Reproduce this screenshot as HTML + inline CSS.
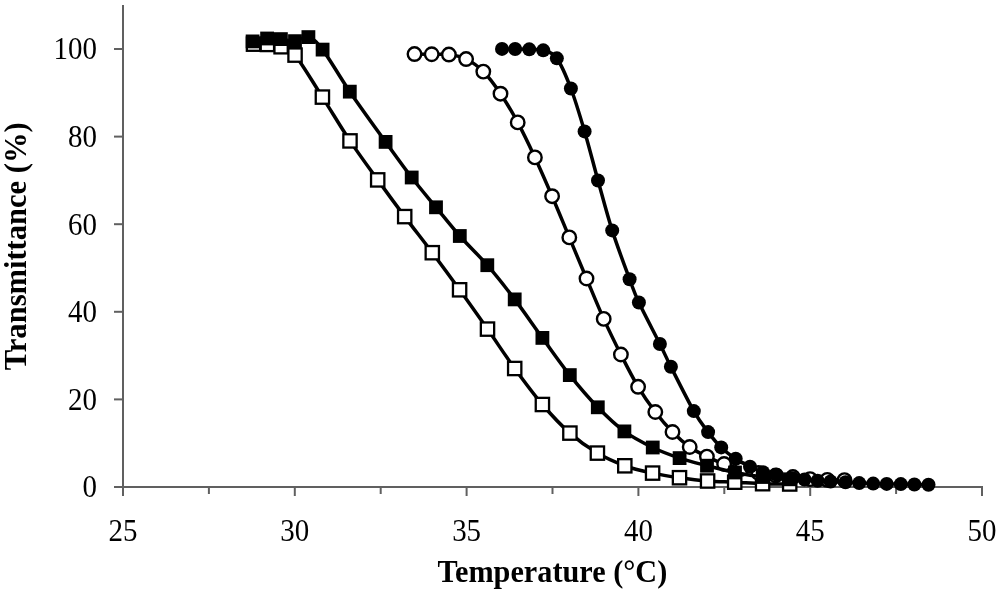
<!DOCTYPE html>
<html><head><meta charset="utf-8"><style>html,body{margin:0;padding:0;background:#fff;width:1000px;height:593px;overflow:hidden}svg{display:block;filter:grayscale(1)}</style></head>
<body><svg width="1000" height="593" viewBox="0 0 1000 593"><g stroke="#606060" stroke-width="2" fill="none">
<line x1="123" y1="5" x2="123" y2="488"/>
<line x1="122" y1="487" x2="983" y2="487"/>
<line x1="114.00" y1="487.00" x2="123.00" y2="487.00"/>
<line x1="114.00" y1="399.40" x2="123.00" y2="399.40"/>
<line x1="114.00" y1="311.80" x2="123.00" y2="311.80"/>
<line x1="114.00" y1="224.20" x2="123.00" y2="224.20"/>
<line x1="114.00" y1="136.60" x2="123.00" y2="136.60"/>
<line x1="114.00" y1="49.00" x2="123.00" y2="49.00"/>
<line x1="123.00" y1="487.00" x2="123.00" y2="496.00"/>
<line x1="208.90" y1="487.00" x2="208.90" y2="494.00"/>
<line x1="294.80" y1="487.00" x2="294.80" y2="496.00"/>
<line x1="380.70" y1="487.00" x2="380.70" y2="494.00"/>
<line x1="466.60" y1="487.00" x2="466.60" y2="496.00"/>
<line x1="552.50" y1="487.00" x2="552.50" y2="494.00"/>
<line x1="638.40" y1="487.00" x2="638.40" y2="496.00"/>
<line x1="724.30" y1="487.00" x2="724.30" y2="494.00"/>
<line x1="810.20" y1="487.00" x2="810.20" y2="496.00"/>
<line x1="896.10" y1="487.00" x2="896.10" y2="494.00"/>
<line x1="982.00" y1="487.00" x2="982.00" y2="496.00"/>
</g>
<g font-family="&quot;Liberation Serif&quot;, serif" font-size="31.8" fill="#000">
<text transform="translate(97,497.30) scale(0.91,1)" text-anchor="end">0</text>
<text transform="translate(97,409.70) scale(0.91,1)" text-anchor="end">20</text>
<text transform="translate(97,322.10) scale(0.91,1)" text-anchor="end">40</text>
<text transform="translate(97,234.50) scale(0.91,1)" text-anchor="end">60</text>
<text transform="translate(97,146.90) scale(0.91,1)" text-anchor="end">80</text>
<text transform="translate(97,59.30) scale(0.91,1)" text-anchor="end">100</text>
<text transform="translate(123.00,540.5) scale(0.91,1)" text-anchor="middle">25</text>
<text transform="translate(294.80,540.5) scale(0.91,1)" text-anchor="middle">30</text>
<text transform="translate(466.60,540.5) scale(0.91,1)" text-anchor="middle">35</text>
<text transform="translate(638.40,540.5) scale(0.91,1)" text-anchor="middle">40</text>
<text transform="translate(810.20,540.5) scale(0.91,1)" text-anchor="middle">45</text>
<text transform="translate(982.00,540.5) scale(0.91,1)" text-anchor="middle">50</text>
</g>
<text transform="translate(552.4,582) scale(0.92828,1)" text-anchor="middle" font-family="&quot;Liberation Serif&quot;, serif" font-weight="bold" font-size="32.6">Temperature (°C)</text>
<text transform="translate(26,246.3) rotate(-90) scale(0.93748,1)" text-anchor="middle" font-family="&quot;Liberation Serif&quot;, serif" font-weight="bold" font-size="32.6">Transmittance (%)</text>
<path d="M253.50,44.15 C255.82,44.20 262.80,44.02 267.40,44.45 C272.00,44.88 276.49,44.98 281.10,46.75 C285.71,48.52 288.17,46.71 295.05,55.10 C301.93,63.49 313.24,82.80 322.40,97.10 C331.56,111.40 340.78,127.10 350.00,140.90 C359.22,154.70 368.58,167.28 377.70,179.90 C386.82,192.52 395.60,204.47 404.70,216.60 C413.80,228.73 423.15,240.50 432.30,252.70 C441.45,264.90 450.40,277.07 459.60,289.80 C468.80,302.53 478.32,315.98 487.50,329.10 C496.68,342.22 505.55,355.93 514.70,368.50 C523.85,381.07 533.20,393.73 542.40,404.50 C551.60,415.27 560.73,425.00 569.90,433.10 C579.07,441.20 588.25,447.65 597.40,453.10 C606.55,458.55 615.60,462.47 624.80,465.80 C634.00,469.13 643.48,471.12 652.60,473.10 C661.72,475.08 670.33,476.38 679.50,477.70 C688.67,479.02 698.40,480.25 707.60,481.00 C716.80,481.75 725.53,481.75 734.70,482.20 C743.87,482.65 753.43,483.40 762.60,483.70 C771.77,484.00 785.18,483.95 789.70,484.00" fill="none" stroke="#000" stroke-width="3.5" stroke-linejoin="round"/>
<rect x="246.85" y="37.50" width="13.30" height="13.30" fill="#fff" stroke="#000" stroke-width="2.3"/>
<rect x="260.75" y="37.80" width="13.30" height="13.30" fill="#fff" stroke="#000" stroke-width="2.3"/>
<rect x="274.45" y="40.10" width="13.30" height="13.30" fill="#fff" stroke="#000" stroke-width="2.3"/>
<rect x="288.40" y="48.45" width="13.30" height="13.30" fill="#fff" stroke="#000" stroke-width="2.3"/>
<rect x="315.75" y="90.45" width="13.30" height="13.30" fill="#fff" stroke="#000" stroke-width="2.3"/>
<rect x="343.35" y="134.25" width="13.30" height="13.30" fill="#fff" stroke="#000" stroke-width="2.3"/>
<rect x="371.05" y="173.25" width="13.30" height="13.30" fill="#fff" stroke="#000" stroke-width="2.3"/>
<rect x="398.05" y="209.95" width="13.30" height="13.30" fill="#fff" stroke="#000" stroke-width="2.3"/>
<rect x="425.65" y="246.05" width="13.30" height="13.30" fill="#fff" stroke="#000" stroke-width="2.3"/>
<rect x="452.95" y="283.15" width="13.30" height="13.30" fill="#fff" stroke="#000" stroke-width="2.3"/>
<rect x="480.85" y="322.45" width="13.30" height="13.30" fill="#fff" stroke="#000" stroke-width="2.3"/>
<rect x="508.05" y="361.85" width="13.30" height="13.30" fill="#fff" stroke="#000" stroke-width="2.3"/>
<rect x="535.75" y="397.85" width="13.30" height="13.30" fill="#fff" stroke="#000" stroke-width="2.3"/>
<rect x="563.25" y="426.45" width="13.30" height="13.30" fill="#fff" stroke="#000" stroke-width="2.3"/>
<rect x="590.75" y="446.45" width="13.30" height="13.30" fill="#fff" stroke="#000" stroke-width="2.3"/>
<rect x="618.15" y="459.15" width="13.30" height="13.30" fill="#fff" stroke="#000" stroke-width="2.3"/>
<rect x="645.95" y="466.45" width="13.30" height="13.30" fill="#fff" stroke="#000" stroke-width="2.3"/>
<rect x="672.85" y="471.05" width="13.30" height="13.30" fill="#fff" stroke="#000" stroke-width="2.3"/>
<rect x="700.95" y="474.35" width="13.30" height="13.30" fill="#fff" stroke="#000" stroke-width="2.3"/>
<rect x="728.05" y="475.55" width="13.30" height="13.30" fill="#fff" stroke="#000" stroke-width="2.3"/>
<rect x="755.95" y="477.05" width="13.30" height="13.30" fill="#fff" stroke="#000" stroke-width="2.3"/>
<rect x="783.05" y="477.35" width="13.30" height="13.30" fill="#fff" stroke="#000" stroke-width="2.3"/>
<path d="M414.50,54.05 C417.37,54.08 425.97,54.17 431.70,54.25 C437.43,54.33 443.17,53.75 448.90,54.55 C454.63,55.35 460.37,56.21 466.10,59.05 C471.83,61.89 477.57,65.82 483.30,71.60 C489.03,77.38 494.77,85.23 500.50,93.70 C506.23,102.17 511.97,111.78 517.70,122.40 C523.43,133.02 529.17,145.10 534.90,157.40 C540.63,169.70 546.37,182.87 552.10,196.20 C557.83,209.53 563.57,223.68 569.30,237.40 C575.03,251.12 580.77,264.92 586.50,278.50 C592.23,292.08 597.97,306.23 603.70,318.90 C609.43,331.57 615.17,343.18 620.90,354.50 C626.63,365.82 632.37,377.22 638.10,386.80 C643.83,396.38 649.57,404.47 655.30,412.00 C661.03,419.53 666.77,426.17 672.50,432.00 C678.23,437.83 683.97,442.90 689.70,447.00 C695.43,451.10 701.17,453.77 706.90,456.60 C712.63,459.43 718.37,461.93 724.10,464.00 C729.83,466.07 735.57,467.50 741.30,469.00 C747.03,470.50 752.77,471.92 758.50,473.00 C764.23,474.08 769.97,474.83 775.70,475.50 C781.43,476.17 787.17,476.40 792.90,477.00 C798.63,477.60 804.37,478.62 810.10,479.10 C815.83,479.58 821.57,479.73 827.30,479.90 C833.03,480.07 841.63,480.07 844.50,480.10" fill="none" stroke="#000" stroke-width="3.5" stroke-linejoin="round"/>
<circle cx="414.50" cy="54.05" r="6.75" fill="#fff" stroke="#000" stroke-width="2.4"/>
<circle cx="431.70" cy="54.25" r="6.75" fill="#fff" stroke="#000" stroke-width="2.4"/>
<circle cx="448.90" cy="54.55" r="6.75" fill="#fff" stroke="#000" stroke-width="2.4"/>
<circle cx="466.10" cy="59.05" r="6.75" fill="#fff" stroke="#000" stroke-width="2.4"/>
<circle cx="483.30" cy="71.60" r="6.75" fill="#fff" stroke="#000" stroke-width="2.4"/>
<circle cx="500.50" cy="93.70" r="6.75" fill="#fff" stroke="#000" stroke-width="2.4"/>
<circle cx="517.70" cy="122.40" r="6.75" fill="#fff" stroke="#000" stroke-width="2.4"/>
<circle cx="534.90" cy="157.40" r="6.75" fill="#fff" stroke="#000" stroke-width="2.4"/>
<circle cx="552.10" cy="196.20" r="6.75" fill="#fff" stroke="#000" stroke-width="2.4"/>
<circle cx="569.30" cy="237.40" r="6.75" fill="#fff" stroke="#000" stroke-width="2.4"/>
<circle cx="586.50" cy="278.50" r="6.75" fill="#fff" stroke="#000" stroke-width="2.4"/>
<circle cx="603.70" cy="318.90" r="6.75" fill="#fff" stroke="#000" stroke-width="2.4"/>
<circle cx="620.90" cy="354.50" r="6.75" fill="#fff" stroke="#000" stroke-width="2.4"/>
<circle cx="638.10" cy="386.80" r="6.75" fill="#fff" stroke="#000" stroke-width="2.4"/>
<circle cx="655.30" cy="412.00" r="6.75" fill="#fff" stroke="#000" stroke-width="2.4"/>
<circle cx="672.50" cy="432.00" r="6.75" fill="#fff" stroke="#000" stroke-width="2.4"/>
<circle cx="689.70" cy="447.00" r="6.75" fill="#fff" stroke="#000" stroke-width="2.4"/>
<circle cx="706.90" cy="456.60" r="6.75" fill="#fff" stroke="#000" stroke-width="2.4"/>
<circle cx="724.10" cy="464.00" r="6.75" fill="#fff" stroke="#000" stroke-width="2.4"/>
<circle cx="741.30" cy="469.00" r="6.75" fill="#fff" stroke="#000" stroke-width="2.4"/>
<circle cx="758.50" cy="473.00" r="6.75" fill="#fff" stroke="#000" stroke-width="2.4"/>
<circle cx="775.70" cy="475.50" r="6.75" fill="#fff" stroke="#000" stroke-width="2.4"/>
<circle cx="792.90" cy="477.00" r="6.75" fill="#fff" stroke="#000" stroke-width="2.4"/>
<circle cx="810.10" cy="479.10" r="6.75" fill="#fff" stroke="#000" stroke-width="2.4"/>
<circle cx="827.30" cy="479.90" r="6.75" fill="#fff" stroke="#000" stroke-width="2.4"/>
<circle cx="844.50" cy="480.10" r="6.75" fill="#fff" stroke="#000" stroke-width="2.4"/>
<path d="M252.60,41.40 C255.02,40.92 262.38,38.88 267.10,38.50 C271.82,38.12 276.25,38.66 280.90,39.10 C285.55,39.54 290.42,41.48 295.00,41.15 C299.58,40.82 303.80,35.69 308.40,37.10 C313.00,38.51 315.70,40.51 322.60,49.60 C329.50,58.69 339.30,76.27 349.80,91.65 C360.30,107.03 375.28,127.59 385.60,141.90 C395.92,156.21 403.30,166.60 411.70,177.50 C420.10,188.40 427.98,197.55 436.00,207.30 C444.02,217.05 451.25,226.35 459.80,236.00 C468.35,245.65 478.15,254.63 487.30,265.20 C496.45,275.77 505.52,287.28 514.70,299.40 C523.88,311.52 533.22,325.28 542.40,337.90 C551.58,350.52 560.57,363.53 569.80,375.10 C579.03,386.67 588.70,397.92 597.80,407.30 C606.90,416.68 615.24,424.70 624.40,431.40 C633.56,438.10 643.55,443.05 652.75,447.50 C661.95,451.95 670.56,455.07 679.60,458.10 C688.64,461.13 697.77,463.30 707.00,465.70 C716.23,468.10 725.72,470.62 735.00,472.50 C744.28,474.38 753.53,475.87 762.70,477.00 C771.87,478.13 785.45,478.92 790.00,479.30" fill="none" stroke="#000" stroke-width="3.5" stroke-linejoin="round"/>
<rect x="245.70" y="34.50" width="13.80" height="13.80" fill="#000"/>
<rect x="260.20" y="31.60" width="13.80" height="13.80" fill="#000"/>
<rect x="274.00" y="32.20" width="13.80" height="13.80" fill="#000"/>
<rect x="288.10" y="34.25" width="13.80" height="13.80" fill="#000"/>
<rect x="301.50" y="30.20" width="13.80" height="13.80" fill="#000"/>
<rect x="315.70" y="42.70" width="13.80" height="13.80" fill="#000"/>
<rect x="342.90" y="84.75" width="13.80" height="13.80" fill="#000"/>
<rect x="378.70" y="135.00" width="13.80" height="13.80" fill="#000"/>
<rect x="404.80" y="170.60" width="13.80" height="13.80" fill="#000"/>
<rect x="429.10" y="200.40" width="13.80" height="13.80" fill="#000"/>
<rect x="452.90" y="229.10" width="13.80" height="13.80" fill="#000"/>
<rect x="480.40" y="258.30" width="13.80" height="13.80" fill="#000"/>
<rect x="507.80" y="292.50" width="13.80" height="13.80" fill="#000"/>
<rect x="535.50" y="331.00" width="13.80" height="13.80" fill="#000"/>
<rect x="562.90" y="368.20" width="13.80" height="13.80" fill="#000"/>
<rect x="590.90" y="400.40" width="13.80" height="13.80" fill="#000"/>
<rect x="617.50" y="424.50" width="13.80" height="13.80" fill="#000"/>
<rect x="645.85" y="440.60" width="13.80" height="13.80" fill="#000"/>
<rect x="672.70" y="451.20" width="13.80" height="13.80" fill="#000"/>
<rect x="700.10" y="458.80" width="13.80" height="13.80" fill="#000"/>
<rect x="728.10" y="465.60" width="13.80" height="13.80" fill="#000"/>
<rect x="755.80" y="470.10" width="13.80" height="13.80" fill="#000"/>
<rect x="783.10" y="472.40" width="13.80" height="13.80" fill="#000"/>
<path d="M502.00,48.90 C504.19,48.92 510.61,48.92 515.15,49.00 C519.69,49.08 524.57,49.12 529.25,49.35 C533.93,49.58 538.65,48.85 543.25,50.35 C547.85,51.85 552.24,51.99 556.85,58.35 C561.46,64.71 566.27,76.33 570.90,88.50 C575.52,100.67 580.08,116.07 584.60,131.40 C589.12,146.73 593.40,164.00 598.00,180.50 C602.60,197.00 606.93,213.95 612.20,230.40 C617.47,246.85 625.15,267.18 629.60,279.20 C634.05,291.22 633.85,291.70 638.90,302.50 C643.95,313.30 654.57,333.28 659.90,344.00 C665.23,354.72 665.25,355.62 670.90,366.80 C676.55,377.98 687.60,400.22 693.80,411.10 C700.00,421.98 703.53,426.05 708.10,432.10 C712.67,438.15 716.60,442.97 721.20,447.40 C725.80,451.83 730.90,455.47 735.70,458.70 C740.50,461.93 745.45,464.55 750.00,466.80 C754.55,469.05 758.55,470.88 763.00,472.20 C767.45,473.52 771.78,473.68 776.70,474.70 C781.62,475.72 787.87,477.50 792.50,478.30 C797.13,479.10 800.32,479.08 804.50,479.50 C808.68,479.92 813.25,480.47 817.60,480.80 C821.95,481.13 825.95,481.25 830.60,481.50 C835.25,481.75 840.73,482.03 845.50,482.30 C850.27,482.57 854.58,482.88 859.20,483.10 C863.82,483.32 868.62,483.47 873.20,483.60 C877.78,483.73 882.10,483.82 886.70,483.90 C891.30,483.98 896.18,484.00 900.80,484.10 C905.42,484.20 909.78,484.40 914.40,484.50 C919.02,484.60 926.15,484.67 928.50,484.70" fill="none" stroke="#000" stroke-width="3.5" stroke-linejoin="round"/>
<circle cx="502.00" cy="48.90" r="7.00" fill="#000"/>
<circle cx="515.15" cy="49.00" r="7.00" fill="#000"/>
<circle cx="529.25" cy="49.35" r="7.00" fill="#000"/>
<circle cx="543.25" cy="50.35" r="7.00" fill="#000"/>
<circle cx="556.85" cy="58.35" r="7.00" fill="#000"/>
<circle cx="570.90" cy="88.50" r="7.00" fill="#000"/>
<circle cx="584.60" cy="131.40" r="7.00" fill="#000"/>
<circle cx="598.00" cy="180.50" r="7.00" fill="#000"/>
<circle cx="612.20" cy="230.40" r="7.00" fill="#000"/>
<circle cx="629.60" cy="279.20" r="7.00" fill="#000"/>
<circle cx="638.90" cy="302.50" r="7.00" fill="#000"/>
<circle cx="659.90" cy="344.00" r="7.00" fill="#000"/>
<circle cx="670.90" cy="366.80" r="7.00" fill="#000"/>
<circle cx="693.80" cy="411.10" r="7.00" fill="#000"/>
<circle cx="708.10" cy="432.10" r="7.00" fill="#000"/>
<circle cx="721.20" cy="447.40" r="7.00" fill="#000"/>
<circle cx="735.70" cy="458.70" r="7.00" fill="#000"/>
<circle cx="750.00" cy="466.80" r="7.00" fill="#000"/>
<circle cx="763.00" cy="472.20" r="7.00" fill="#000"/>
<circle cx="776.70" cy="474.70" r="7.00" fill="#000"/>
<circle cx="792.50" cy="478.30" r="7.00" fill="#000"/>
<circle cx="804.50" cy="479.50" r="7.00" fill="#000"/>
<circle cx="817.60" cy="480.80" r="7.00" fill="#000"/>
<circle cx="830.60" cy="481.50" r="7.00" fill="#000"/>
<circle cx="845.50" cy="482.30" r="7.00" fill="#000"/>
<circle cx="859.20" cy="483.10" r="7.00" fill="#000"/>
<circle cx="873.20" cy="483.60" r="7.00" fill="#000"/>
<circle cx="886.70" cy="483.90" r="7.00" fill="#000"/>
<circle cx="900.80" cy="484.10" r="7.00" fill="#000"/>
<circle cx="914.40" cy="484.50" r="7.00" fill="#000"/>
<circle cx="928.50" cy="484.70" r="7.00" fill="#000"/></svg></body></html>
